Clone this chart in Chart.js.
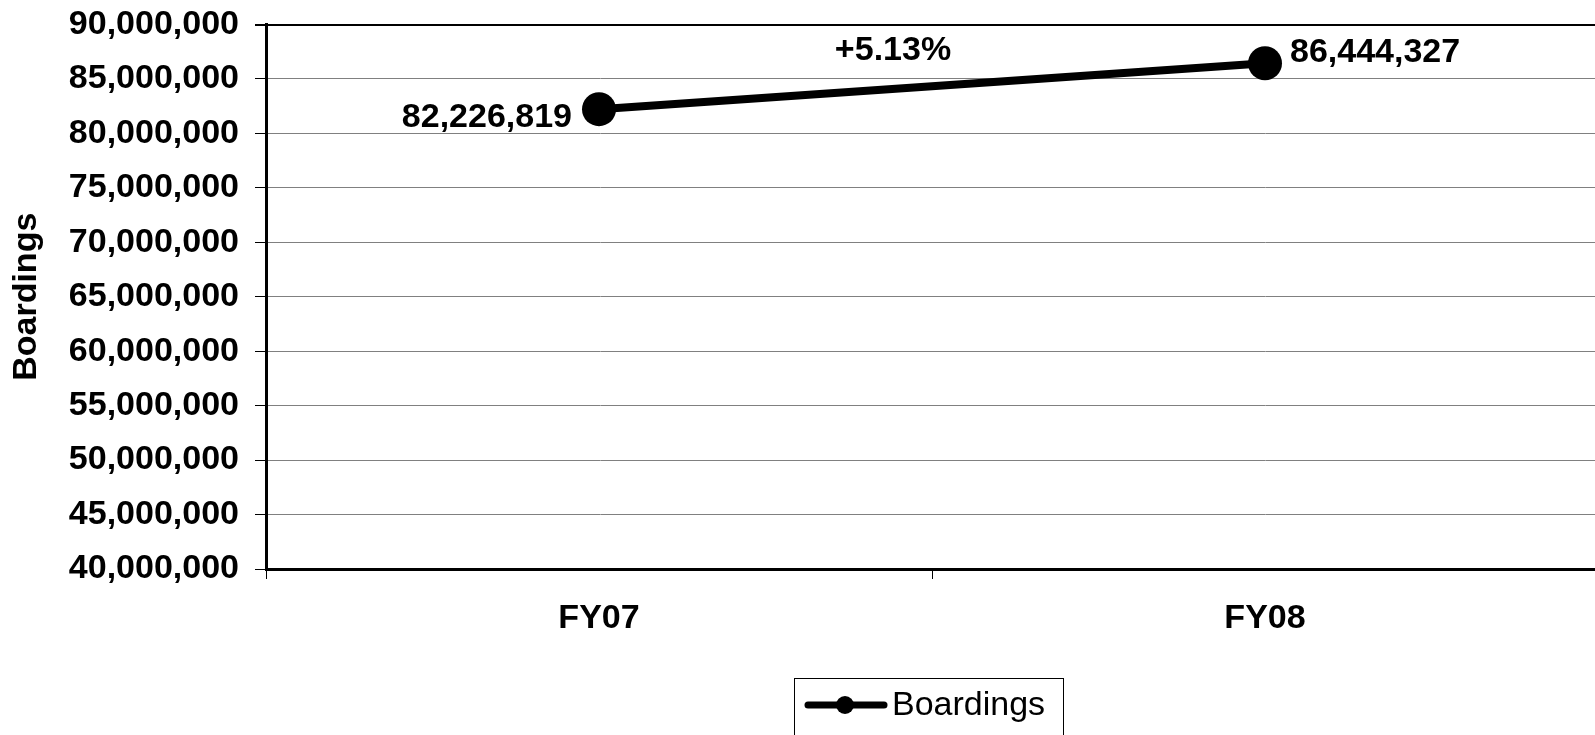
<!DOCTYPE html>
<html>
<head>
<meta charset="utf-8">
<script src="https://cdn.jsdelivr.net/npm/chart.js@4.4.0/dist/chart.umd.min.js"></script>
<style>
html,body{margin:0;padding:0;background:#fff;overflow:hidden;}
#wrap{width:1615px;height:735px;}
</style>
</head>
<body>
<div id="wrap"><canvas id="c" width="1615" height="735"></canvas></div>
<script>
const categories = ["FY07", "FY08"];
const boardings = [82226819, 86444327];
const seriesName = "Boardings";
const changeLabel = "+5.13%";
const yMin = 40000000, yMax = 90000000, yStep = 5000000;

const FONT = "'Liberation Sans', Arial, sans-serif";
const fmt = v => v.toLocaleString('en-US');

const labelPlugin = {
  id: 'labels',
  afterDatasetsDraw(chart) {
    const ctx = chart.ctx;
    const meta = chart.getDatasetMeta(0);
    const p0 = meta.data[0], p1 = meta.data[1];
    ctx.save();
    ctx.fillStyle = '#000';
    ctx.font = 'bold 34px ' + FONT;
    ctx.textBaseline = 'middle';
    ctx.textAlign = 'right';
    ctx.fillText(fmt(boardings[0]), p0.x - 27, p0.y + 8);
    ctx.textAlign = 'left';
    ctx.fillText(fmt(boardings[1]), p1.x + 25, p1.y - 11);
    ctx.textAlign = 'center';
    ctx.fillText(changeLabel, (p0.x + p1.x) / 2 - 39, chart.chartArea.top + 26);
    // legend
    const lx = 794, ly = 678, lw = 269, lh = 70;
    ctx.strokeStyle = '#000';
    ctx.lineWidth = 1;
    ctx.strokeRect(lx + 0.5, ly + 0.5, lw, lh);
    const cy = 705;
    ctx.beginPath();
    ctx.lineCap = 'round';
    ctx.lineWidth = 7;
    ctx.moveTo(808, cy); ctx.lineTo(884, cy);
    ctx.stroke();
    ctx.beginPath();
    ctx.arc(845, cy, 9, 0, Math.PI * 2);
    ctx.fillStyle = '#000';
    ctx.fill();
    ctx.font = '34px ' + FONT;
    ctx.textAlign = 'left';
    ctx.fillText(seriesName, 892, cy + 1);
    ctx.restore();
  }
};

new Chart(document.getElementById('c'), {
  type: 'line',
  data: {
    labels: categories,
    datasets: [{
      label: seriesName,
      data: boardings,
      borderColor: '#000',
      backgroundColor: '#000',
      borderWidth: 8,
      pointRadius: 17,
      pointHoverRadius: 17,
      pointBackgroundColor: '#000',
      pointBorderWidth: 0,
      tension: 0
    }]
  },
  options: {
    responsive: false,
    animation: false,
    events: [],
    layout: { padding: { left: 0, right: 2, top: 23, bottom: 86 } },
    plugins: { legend: { display: false }, tooltip: { enabled: false } },
    scales: {
      x: {
        offset: true,
        grid: { offset: true, drawOnChartArea: false, drawTicks: true, tickLength: 10, color: '#000', lineWidth: 1 },
        border: { color: '#000', width: 3 },
        ticks: { color: '#000', font: { family: FONT, size: 34, weight: 'bold' }, padding: 19 },
        afterFit(s) { s.height = 80; }
      },
      y: {
        min: yMin, max: yMax,
        ticks: { stepSize: yStep, color: '#000', font: { family: FONT, size: 34, weight: 'bold', lineHeight: 0.5 }, padding: 16, callback: v => fmt(v) },
        grid: {
          color: ctx => (ctx.tick && ctx.tick.value === yMax) ? '#000' : '#808080',
          lineWidth: ctx => (ctx.tick && ctx.tick.value === yMax) ? 2 : 1,
          tickColor: '#000',
          tickLength: 11
        },
        border: { color: '#000', width: 3 },
        title: { display: true, text: 'Boardings', color: '#000', font: { family: FONT, size: 34, weight: 'bold' }, padding: { top: 6, bottom: 0 } },
        afterFit(s) { s.width = 266; }
      }
    }
  },
  plugins: [labelPlugin]
});
</script>
</body>
</html>
